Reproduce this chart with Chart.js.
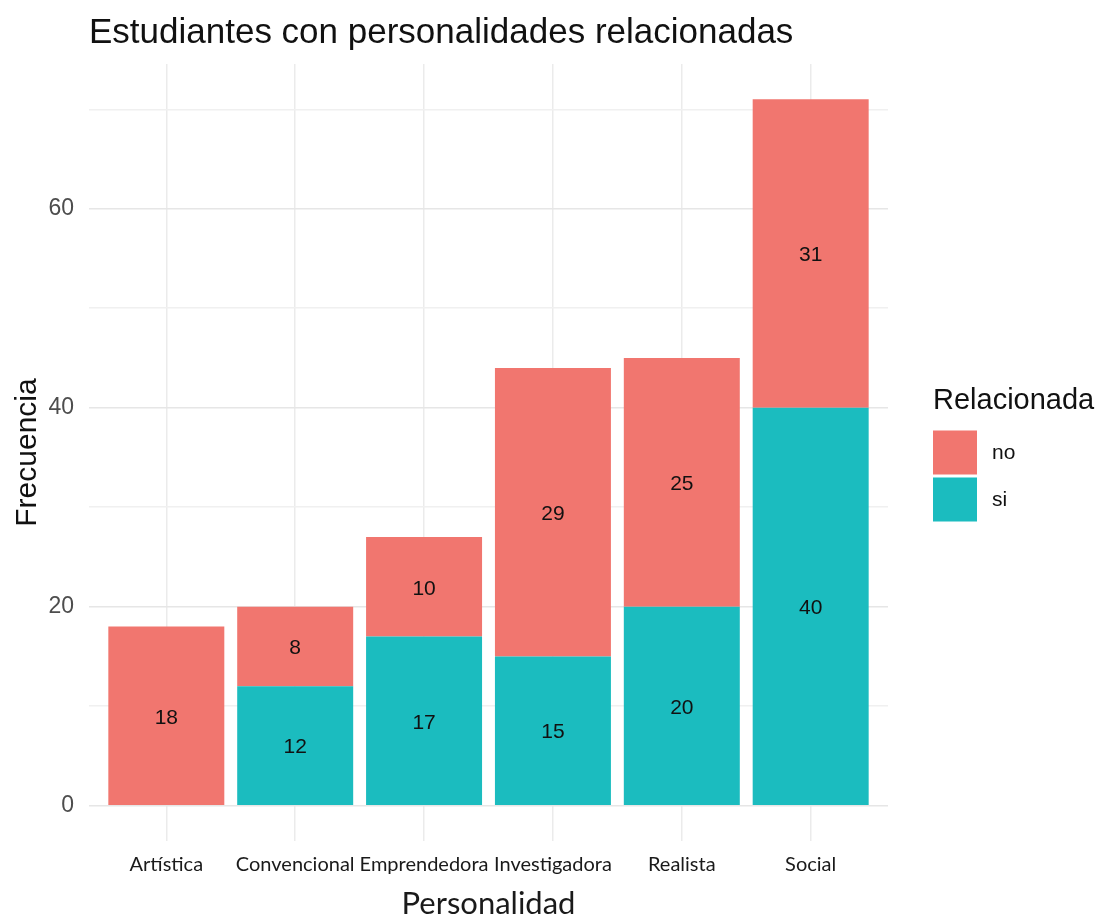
<!DOCTYPE html>
<html>
<head>
  <meta charset="UTF-8">
  <title>Estudiantes con personalidades relacionadas</title>
  <script src="https://cdn.jsdelivr.net/npm/chart.js"></script>
  <style>
    body { margin: 0; background: #fff; }
    #wrap { width: 1102px; height: 918px; }
  </style>
</head>
<body>
  <div id="wrap"><canvas id="chart" width="1102" height="918"></canvas></div>
  <script>
    // data
    const categories = ['Artística', 'Convencional', 'Emprendedora', 'Investigadora', 'Realista', 'Social'];
    const siValues = [0, 12, 17, 15, 20, 40];
    const noValues = [18, 8, 10, 29, 25, 31];
    const yTicks = [0, 10, 20, 30, 40, 50, 60, 70];

    const colorNo = '#F1766F';
    const colorSi = '#1BBCBF';

    // value labels in the middle of each segment
    const segmentLabels = {
      id: 'segmentLabels',
      afterDatasetsDraw(chart) {
        const ctx = chart.ctx;
        ctx.save();
        ctx.font = '21px "Liberation Sans", Arial, sans-serif';
        ctx.fillStyle = '#111';
        ctx.textAlign = 'center';
        ctx.textBaseline = 'middle';
        chart.data.datasets.forEach((ds, di) => {
          chart.getDatasetMeta(di).data.forEach((bar, i) => {
            const v = ds.data[i].y;
            if (!v) return;
            ctx.fillText(String(v), bar.x, (bar.y + bar.base) / 2 + 2);
          });
        });
        ctx.restore();
      }
    };

    // ggplot-like legend on the right
    const sideLegend = {
      id: 'sideLegend',
      afterDraw(chart) {
        const ctx = chart.ctx;
        const area = chart.chartArea;
        const x = area.right + 45;
        const mid = (area.top + area.bottom) / 2;
        ctx.save();
        ctx.fillStyle = '#111';
        ctx.textBaseline = 'middle';
        ctx.font = '29px "Liberation Sans", Arial, sans-serif';
        ctx.fillText('Relacionada', x, mid - 52);
        // "no" on top, "si" below (reverse of stacking order)
        const items = chart.data.datasets.slice().reverse();
        items.forEach((ds, k) => {
          const y = mid - 22 + k * 47;
          ctx.fillStyle = ds.backgroundColor;
          ctx.fillRect(x, y, 44, 44);
          ctx.fillStyle = '#111';
          ctx.font = '21px "Liberation Sans", Arial, sans-serif';
          ctx.fillText(ds.label, x + 59, y + 23);
        });
        ctx.restore();
      }
    };

    const ctx = document.getElementById('chart').getContext('2d');
    new Chart(ctx, {
      type: 'bar',
      data: {
        datasets: [
          { label: 'si', data: siValues.map((v, i) => ({ x: i + 1, y: v })), backgroundColor: colorSi },
          { label: 'no', data: noValues.map((v, i) => ({ x: i + 1, y: v })), backgroundColor: colorNo }
        ]
      },
      options: {
        responsive: false,
        animation: false,
        barPercentage: 0.9,
        categoryPercentage: 1.0,
        layout: { padding: { left: 0, right: 214, top: 0, bottom: 0 } },
        plugins: {
          legend: { display: false },
          tooltip: { enabled: false },
          title: {
            display: true,
            text: 'Estudiantes con personalidades relacionadas',
            align: 'start',
            fullSize: false,
            color: '#111',
            font: { family: '"Liberation Sans", Arial, sans-serif', size: 35, weight: 'normal' },
            padding: { top: 12, bottom: 10 }
          }
        },
        scales: {
          x: {
            type: 'linear',
            stacked: true,
            offset: false,
            min: 0.4,
            max: 6.6,
            afterBuildTicks: (scale) => { scale.ticks = categories.map((c, i) => ({ value: i + 1 })); },
            afterFit: (scale) => { scale.height = 77; },
            ticks: {
              callback: (v) => categories[v - 1],
              color: '#1a1a1a',
              padding: 12,
              maxRotation: 0,
              autoSkip: false,
              font: { family: 'Lato, "Open Sans", sans-serif', size: 20 }
            },
            grid: { color: '#EBEBEB', lineWidth: 1.5, drawTicks: false, offset: false },
            border: { display: false },
            title: {
              display: true,
              text: 'Personalidad',
              color: '#1a1a1a',
              font: { family: 'Lato, "Open Sans", sans-serif', size: 31, lineHeight: 0.9 },
              padding: { top: 0, bottom: 0 }
            }
          },
          y: {
            stacked: true,
            min: -3.55,
            max: 74.55,
            afterBuildTicks: (scale) => { scale.ticks = yTicks.map(v => ({ value: v })); },
            afterFit: (scale) => { scale.width = 89; },
            ticks: {
              callback: (v) => (v % 20 === 0 ? v : ''),
              color: '#4D4D4D',
              padding: 15,
              font: { family: '"Liberation Sans", Arial, sans-serif', size: 23 }
            },
            grid: {
              color: (c) => (c.tick && c.tick.value % 20 === 0 ? '#E6E6E6' : '#F0F0F0'),
              lineWidth: 1.5,
              drawTicks: false
            },
            border: { display: false },
            title: {
              display: true,
              text: 'Frecuencia',
              color: '#111',
              font: { family: '"Liberation Sans", Arial, sans-serif', size: 30 },
              padding: { top: 10, bottom: 0 }
            }
          }
        }
      },
      plugins: [segmentLabels, sideLegend]
    });
  </script>
</body>
</html>
